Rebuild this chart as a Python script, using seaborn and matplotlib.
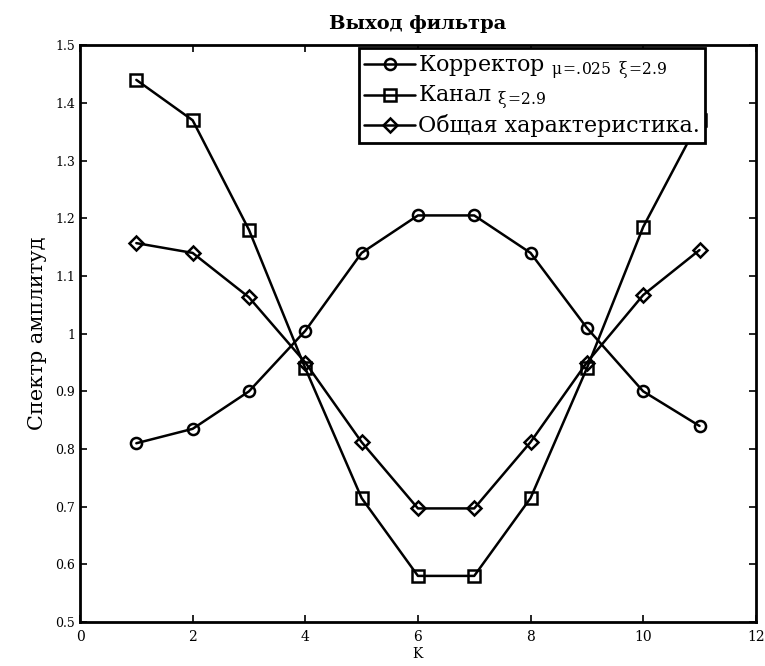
import numpy as np
import pandas as pd
import matplotlib
matplotlib.use("Agg")
import matplotlib.pyplot as plt
import seaborn as sns

k = [1, 2, 3, 4, 5, 6, 7, 8, 9, 10, 11]
corrector = [0.81, 0.835, 0.90, 1.005, 1.14, 1.205, 1.205, 1.14, 1.01, 0.90, 0.84]
channel = [1.44, 1.37, 1.18, 0.94, 0.715, 0.58, 0.58, 0.715, 0.94, 1.185, 1.37]
overall = [1.157, 1.14, 1.063, 0.95, 0.812, 0.697, 0.697, 0.812, 0.95, 1.067, 1.145]

labels = [r"Корректор $_{\mathregular{μ\!=\!.\!025\;\;ξ\!=\!2.9}}$",
          r"Канал $_{\mathregular{ξ\!=\!2.9}}$",
          "Общая характеристика."]
title = "Выход фильтра"
xlabel = "K"
ylabel = "Спектр амплитуд"
xticks = [0, 2, 4, 6, 8, 10, 12]
yticks = [0.5, 0.6, 0.7, 0.8, 0.9, 1.0, 1.1, 1.2, 1.3, 1.4, 1.5]
yticklabels = ["0.5", "0.6", "0.7", "0.8", "0.9", "1", "1.1", "1.2", "1.3", "1.4", "1.5"]

sns.set_theme(style="white")
plt.rcParams["font.family"] = ["DejaVu Serif"]
plt.rcParams["mathtext.fontset"] = "dejavuserif"
plt.rcParams["text.color"] = "black"
plt.rcParams["axes.labelcolor"] = "black"

fig = plt.figure(figsize=(7.65, 6.66), dpi=100)
ax = fig.add_axes([0.1046, 0.066, 0.8834, 0.866])

series = [(corrector, "o"), (channel, "s"), (overall, "D")]
for (vals, m), lab in zip(series, labels):
    df = pd.DataFrame({"K": k, "v": vals})
    sns.lineplot(data=df, x="K", y="v", ax=ax, color="black", lw=1.8,
                 marker=m, markersize=8 if m != "D" else 7,
                 markerfacecolor="none", markeredgecolor="black",
                 markeredgewidth=1.8, label=lab)

ax.set_xlim(0, 12)
ax.set_ylim(0.5, 1.5)
ax.set_xticks(xticks)
ax.set_xticklabels([str(t) for t in xticks])
ax.set_yticks(yticks)
ax.set_yticklabels(yticklabels)
ax.tick_params(direction="in", length=5, width=1.2, colors="black",
               top=True, right=True, left=True, bottom=True)
ax.tick_params(axis="x", labelsize=10, pad=6)
ax.tick_params(axis="y", labelsize=9)
for s in ax.spines.values():
    s.set_color("black")
    s.set_linewidth(2)
ax.set_title(title, fontsize=14, fontweight="bold", pad=12, color="black")
ax.set_xlabel(xlabel, fontsize=10, labelpad=2)
ax.set_ylabel(ylabel, fontsize=15, labelpad=6)

leg = ax.legend(loc="upper right", bbox_to_anchor=(0.925, 0.995), fontsize=16,
                frameon=True, fancybox=False, framealpha=1, edgecolor="black",
                handlelength=2.3, borderpad=0.25, labelspacing=0.1, handletextpad=0.1,
                borderaxespad=0.0)
leg.get_frame().set_linewidth(2)

fig.savefig("out.png", dpi=100)
